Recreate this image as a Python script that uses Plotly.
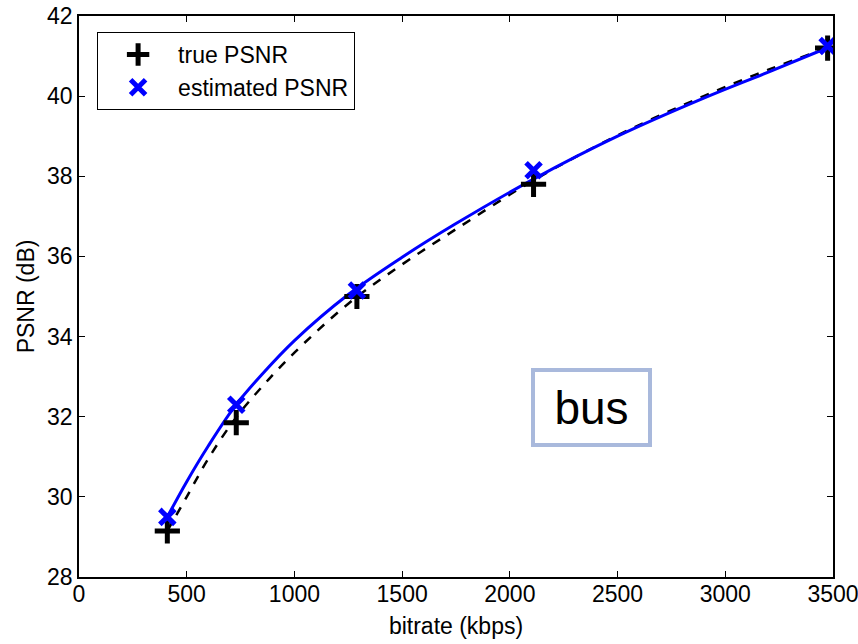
import plotly.graph_objects as go

# measured points
bitrate = [410, 730, 1290, 2110, 3475]
true_psnr = [29.15, 31.85, 35.0, 37.8, 41.2]
est_psnr = [29.5, 32.3, 35.15, 38.15, 41.25]

# fitted curves
curve_x = [410, 500, 600, 725, 850, 1000, 1250, 1500, 1750, 2110, 2500, 2900, 3200, 3480]
curve_true = [29.15, 30.0, 30.95, 31.95, 32.75, 33.6, 34.82, 35.8, 36.68, 37.9, 39.02, 40.0, 40.66, 41.22]
curve_est = [29.5, 30.38, 31.27, 32.27, 33.06, 33.9, 35.05, 35.98, 36.82, 37.93, 39.0, 39.95, 40.6, 41.22]

x_ticks = [0, 500, 1000, 1500, 2000, 2500, 3000, 3500]
y_ticks = [28, 30, 32, 34, 36, 38, 40, 42]

FONT = "Liberation Sans, Arial, sans-serif"

fig = go.Figure()
fig.add_trace(go.Scatter(x=curve_x, y=curve_true, mode="lines",
                         line=dict(color="black", width=2.5, dash="dash", shape="spline", smoothing=1.0),
                         showlegend=False, hoverinfo="skip"))
fig.add_trace(go.Scatter(x=curve_x, y=curve_est, mode="lines",
                         line=dict(color="#0000FF", width=3, shape="spline", smoothing=1.0),
                         showlegend=False, hoverinfo="skip"))
fig.add_trace(go.Scatter(x=bitrate, y=true_psnr, mode="markers", name="true PSNR",
                         marker=dict(symbol="cross-thin", size=18, color="black",
                                     line=dict(color="black", width=5))))
fig.add_trace(go.Scatter(x=bitrate, y=est_psnr, mode="markers", name="estimated PSNR",
                         marker=dict(symbol="x-thin", size=15, color="#0000FF",
                                     line=dict(color="#0000FF", width=5))))

fig.add_annotation(x=2377, y=32.24, xref="x", yref="y", text="bus", showarrow=False,
                   font=dict(family=FONT, size=46, color="black"),
                   bordercolor="#A9B9DC", borderwidth=4, borderpad=0, width=113, height=71,
                   bgcolor="white")

axis_common = dict(showline=True, linecolor="black", linewidth=1.5, mirror="ticks", ticks="inside",
                   ticklen=6, tickcolor="black", showgrid=False, zeroline=False, automargin=False,
                   ticklabeloverflow="allow",
                   tickfont=dict(family=FONT, size=23, color="black"))

fig.update_xaxes(range=[0, 3500], tickvals=x_ticks, ticktext=[str(v) for v in x_ticks],
                 title=dict(text="bitrate (kbps)", font=dict(family=FONT, size=23, color="black"), standoff=12),
                 ticklabelstandoff=-4,
                 **axis_common)
fig.update_yaxes(range=[28, 42], tickvals=y_ticks, ticktext=[str(v) for v in y_ticks],
                 title=dict(text="PSNR (dB)", font=dict(family=FONT, size=23, color="black"), standoff=6),
                 **axis_common)

fig.update_layout(
    width=858, height=644,
    margin=dict(l=79, r=25, t=16, b=67),
    paper_bgcolor="white", plot_bgcolor="white",
    font=dict(family=FONT, size=23, color="black"),
    legend=dict(x=0.024, y=0.9715, xanchor="left", yanchor="top", bgcolor="white",
                bordercolor="black", borderwidth=1, itemwidth=70,
                font=dict(family=FONT, size=23, color="black"), tracegroupgap=0),
)

fig.write_html("out.html")
